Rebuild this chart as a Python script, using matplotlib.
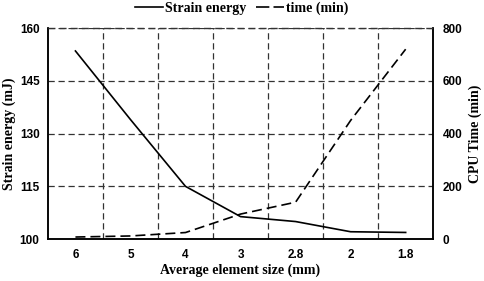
import numpy as np
import matplotlib.pyplot as plt
from matplotlib.lines import Line2D

# Data
sizes = ['6', '5', '4', '3', '2.8', '2', '1.8']
strain_energy = [153.5, 134, 115, 106.4, 105, 102.1, 101.9]  # mJ
cpu_time = [8, 12, 25, 95, 140, 450, 720]  # min

x = np.arange(len(sizes))
dash = (0, (6, 3))
grid_dash = (0, (5, 3))

fig = plt.figure(figsize=(4.84, 2.81), dpi=100)
ax = fig.add_axes([0.099, 0.149, 0.796, 0.751])
ax2 = ax.twinx()

ax.plot(x, strain_energy, color='black', lw=1.2)
ax2.plot(x, cpu_time, color='black', lw=1.2, ls=dash)

ax.set_xlim(-0.5, len(sizes) - 0.5)
ax.set_ylim(100, 160)
ax.set_yticks([100, 115, 130, 145, 160])
ax2.set_ylim(0, 800)
ax2.set_yticks([0, 200, 400, 600, 800])
ax.set_xticks(x)
ax.set_xticklabels(sizes)
ax.set_xticks(x[:-1] + 0.5, minor=True)

# grid: dashed, vertical lines at category boundaries
ax.grid(True, which='minor', axis='x', color='#333333', ls=grid_dash, lw=0.9)
ax.grid(True, which='major', axis='y', color='#333333', ls=grid_dash, lw=0.9)

for a in (ax, ax2):
    a.tick_params(which='both', length=0)
    for lbl in a.get_xticklabels() + a.get_yticklabels():
        lbl.set_fontfamily('Liberation Sans')
        lbl.set_fontweight('bold')
        lbl.set_fontsize(8.5)
    a.spines['top'].set_visible(False)
    for s in ('left', 'right', 'bottom'):
        a.spines[s].set_linewidth(1.1)

# dashed top border (160 gridline) drawn on the twin axes so it is not hidden
top_line = Line2D([0, 1], [1, 1], transform=ax2.transAxes, color='#333333',
                  ls=grid_dash, lw=1.0, clip_on=False, zorder=5)
ax2.add_line(top_line)

ax.tick_params(axis='x', pad=7)
ax.tick_params(axis='y', pad=6)
ax2.tick_params(axis='y', pad=7)

label_font = dict(family='Liberation Serif', weight='bold', size=10)
ax.set_xlabel('Average element size (mm)', labelpad=2, **label_font)
ax.set_ylabel('Strain energy (mJ)', labelpad=3, **label_font)
ax2.set_ylabel('CPU Time (min)', labelpad=4, **label_font)

handles = [Line2D([], [], color='black', lw=1.2),
           Line2D([], [], color='black', lw=1.2, ls=(0, (8, 2.5)))]
fig.legend(handles, ['Strain energy', 'time (min)'], loc='upper center',
           bbox_to_anchor=(0.5, 1.04), ncol=2, frameon=False,
           prop=dict(family='Liberation Serif', weight='bold', size=10),
           handlelength=2.0, handletextpad=0.15, columnspacing=0.7)

fig.savefig('out.png', dpi=100)
